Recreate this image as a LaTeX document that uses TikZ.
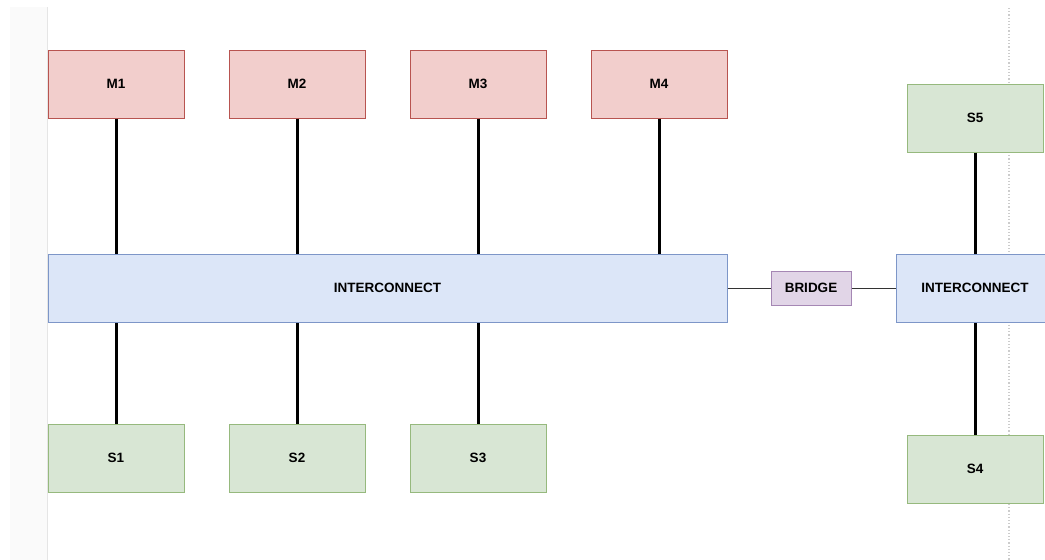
\documentclass[tikz,border=0pt]{standalone}
\usepackage{fontspec}
\setmainfont{Liberation Sans}
\begin{document}
\begin{tikzpicture}[x=1pt,y=-1pt,
  box/.style={draw,line width=1pt,minimum height=68pt,inner sep=0pt,font=\fontsize{13.5}{15}\selectfont\bfseries,text=black},
  mbox/.style={box,fill={rgb,255:red,242;green,206;blue,204},draw={rgb,255:red,184;green,84;blue,80},minimum width=136pt},
  sbox/.style={box,fill={rgb,255:red,216;green,230;blue,212},draw={rgb,255:red,150;green,185;blue,125},minimum width=136pt},
  ibox/.style={box,fill={rgb,255:red,220;green,230;blue,248},draw={rgb,255:red,125;green,150;blue,200}},
  bbox/.style={box,fill={rgb,255:red,225;green,213;blue,231},draw={rgb,255:red,165;green,135;blue,180},minimum width=80pt,minimum height=34pt},
  bus/.style={line width=3pt,black},
  link/.style={line width=1pt,black!80}]
\useasboundingbox (0,0) rectangle (1045,560);
\fill[black!2] (10,7) rectangle (47,560);
\draw[black!10,line width=1pt] (47,7) -- (47,560);
\draw[black!20,line width=1.2pt,dotted] (1009,8) -- (1009,560);
\node[mbox] (m1) at (116,84) {M1};
\node[mbox] (m2) at (297,84) {M2};
\node[mbox] (m3) at (478,84) {M3};
\node[mbox] (m4) at (659,84) {M4};
\node[ibox,minimum width=679pt] (ic1) at (387.5,288) {INTERCONNECT};
\node[sbox] (s1) at (116,458) {S1};
\node[sbox] (s2) at (297,458) {S2};
\node[sbox] (s3) at (478,458) {S3};
\node[bbox] (br) at (811,288) {BRIDGE};
\node[ibox,minimum width=158pt] (ic2) at (975,288) {INTERCONNECT};
\node[sbox] (s5) at (975,118) {S5};
\node[sbox] (s4) at (975,469) {S4};
\draw[bus] (m1) -- (m1 |- ic1.north);
\draw[bus] (m2) -- (m2 |- ic1.north);
\draw[bus] (m3) -- (m3 |- ic1.north);
\draw[bus] (m4) -- (m4 |- ic1.north);
\draw[bus] (s1) -- (s1 |- ic1.south);
\draw[bus] (s2) -- (s2 |- ic1.south);
\draw[bus] (s3) -- (s3 |- ic1.south);
\draw[bus] (s5) -- (ic2);
\draw[bus] (s4) -- (ic2);
\draw[link] (ic1) -- (br);
\draw[link] (br) -- (ic2);
\end{tikzpicture}
\end{document}
